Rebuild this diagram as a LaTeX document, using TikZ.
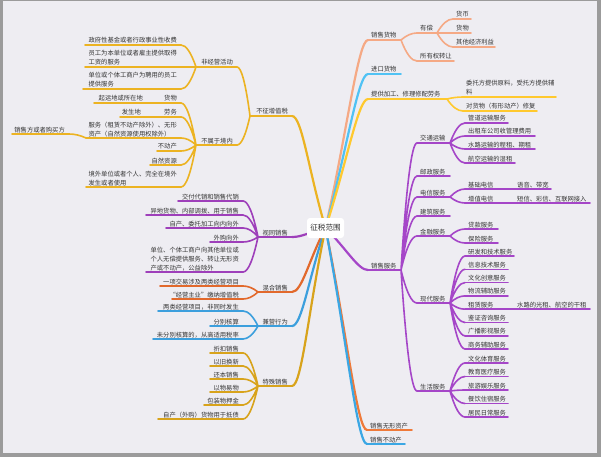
\documentclass[tikz,border=0pt]{standalone}
\usepackage{fontspec}
\newfontfamily\cjk{Noto Sans CJK SC}
\usetikzlibrary{calc,backgrounds}
\definecolor{frame}{HTML}{9B9B9B}
\definecolor{paper}{HTML}{EEEDF2}
\definecolor{txt}{HTML}{333333}
\definecolor{cA}{HTML}{ECB322}
\definecolor{cB}{HTML}{9E3FBA}
\definecolor{cC}{HTML}{E2692C}
\definecolor{cD}{HTML}{3C9FDD}
\definecolor{cE}{HTML}{D8A31B}
\definecolor{cF}{HTML}{F5A985}
\definecolor{cG}{HTML}{50C2F4}
\definecolor{cH}{HTML}{FFC92E}
\definecolor{cI}{HTML}{A546C8}
\definecolor{cJ}{HTML}{EF7A3A}
\definecolor{cK}{HTML}{3BA7E4}
\newcommand\mlines[1]{\vbox{\baselineskip=9pt\lineskiplimit=-20pt\halign{##\hfil\cr#1\crcr}}}
\tikzset{
 lbl/.style={font=\cjk\fontsize{6.3}{9}\selectfont, text=txt, inner sep=0pt},
 ul/.style={line width=1.6pt, line cap=round},
 br/.style={line width=1.6pt, line cap=round, to path={let \p1=(\tikztostart), \p2=(\tikztotarget) in .. controls ({\x1+(\x2-\x1)/3},{\y1+2*(\y2-\y1)/3}) and ({\x2-(\x2-\x1)/3},\y2) .. (\p2)}},
 rbr/.style={line width=2.2pt, line cap=round, to path={let \p1=(\tikztostart), \p2=(\tikztotarget) in .. controls ({(\x1+\x2)/2},{(\y1+\y2)/2}) and ({\x2+(#1pt)},\y2) .. (\p2)}},
 rootnode/.style={fill=white, rounded corners=3pt, minimum width=37pt, minimum height=20pt, inner sep=0pt, font=\cjk\fontsize{7.6}{9}\selectfont, text=txt}
}
% right-side topic: name, colour, x left, x right, y of line, text
\newcommand\tpR[6]{%
 \coordinate (#1-L) at (#3,#5);
 \coordinate (#1-R) at (#4,#5);
 \draw[ul,#2] (#1-L) -- (#1-R);
 \node[lbl,anchor=base west] (#1) at ({#3+3},{#5-2}) {#6};}
% left-side topic
\newcommand\tpL[6]{%
 \coordinate (#1-L) at (#3,#5);
 \coordinate (#1-R) at (#4,#5);
 \draw[ul,#2] (#1-L) -- (#1-R);
 \node[lbl,anchor=base east] (#1) at ({#4-4},{#5-2}) {#6};}
\begin{document}
\begin{tikzpicture}[x=1pt,y=-1pt]
\useasboundingbox (0,0) rectangle (601,457);
\begin{scope}[on background layer]
 \fill[frame] (0,0) rectangle (601,457);
 \fill[paper] (3,1) rectangle (597,453);
\end{scope}
\node[rootnode] (root) at (325.5,228) {征税范围};
% ---------- left: 不征增值税
\tpL{A0}{cA}{250}{292}{116}{不征增值税}
\tpL{A1}{cA}{196}{237}{67}{非经营活动}
\tpL{A11}{cA}{85}{181}{45}{政府性基金或者行政事业性收费}
\tpL{A12}{cA}{85}{181}{67}{\mlines{员工为本单位或者雇主提供取得\cr 工资的服务}}
\tpL{A13}{cA}{83}{181}{89}{\mlines{单位或个体工商户为聘用的员工\cr 提供服务}}
\tpL{A2}{cA}{196}{237}{145}{不属于境内}
\tpL{A21}{cA}{161}{181}{103}{货物}
\tpL{A211}{cA}{94}{147}{103}{起运地或所在地}
\tpL{A22}{cA}{161}{181}{117}{劳务}
\tpL{A221}{cA}{120}{145}{117}{发生地}
\tpL{A23}{cA}{86}{181}{138}{\mlines{服务（租赁不动产除外）、无形\cr 资产（自然资源使用权除外）}}
\tpL{A231}{cA}{12}{69}{134}{销售方或者购买方}
\tpL{A24}{cA}{157}{181}{151}{不动产}
\tpL{A25}{cA}{150}{181}{165}{自然资源}
\tpL{A26}{cA}{86}{181}{187}{\mlines{境外单位或者个人、完全在境外\cr 发生或者使用}}
% ---------- 视同销售
\tpL{B0}{cB}{258}{292}{237}{视同销售}
\tpL{B1}{cB}{178}{243}{201}{交付代销和销售代销}
\tpL{B2}{cB}{146}{243}{215}{异地货物、内部调拨、用于销售}
\tpL{B3}{cB}{166}{243}{228}{自产、委托加工向内向外}
\tpL{B4}{cB}{210}{243}{242}{外购向外}
\tpL{B5}{cB}{146}{243}{272}{\mlines{单位、个体工商户向其他单位或\cr 个人无偿提供服务、转让无形资\cr 产或不动产，公益除外}}
% ---------- 混合销售
\tpL{C0}{cC}{258}{292}{292}{混合销售}
\tpL{C1}{cC}{160}{243}{286}{一项交易涉及两类经营项目}
\tpL{C2}{cC}{172}{243}{299}{“经营主业”缴纳增值税}
% ---------- 兼营行为
\tpL{D0}{cD}{258}{292}{326}{兼营行为}
\tpL{D1}{cD}{158}{243}{311}{两类经营项目，非同时发生}
\tpL{D2}{cD}{210}{243}{326}{分别核算}
\tpL{D3}{cD}{153}{243}{339}{未分别核算的，从高适用税率}
% ---------- 特殊销售
\tpL{E0}{cE}{258}{292}{386}{特殊销售}
\tpL{E1}{cE}{210}{243}{353}{折扣销售}
\tpL{E2}{cE}{210}{243}{366}{以旧换新}
\tpL{E3}{cE}{210}{243}{379}{还本销售}
\tpL{E4}{cE}{210}{243}{392}{以物易物}
\tpL{E5}{cE}{204}{243}{405}{包装物押金}
\tpL{E6}{cE}{158}{243}{419}{自产（外购）货物用于抵债}
% ---------- right side
\tpR{F0}{cF}{368}{401}{40}{销售货物}
\tpR{F1}{cF}{417}{437}{33}{有偿}
\tpR{F11}{cF}{453}{471}{19}{货币}
\tpR{F12}{cF}{453}{471}{33}{货物}
\tpR{F13}{cF}{453}{495}{47}{其他经济利益}
\tpR{F2}{cF}{417}{454}{61}{所有权转让}
\tpR{G0}{cG}{368}{401}{74}{进口货物}
\tpR{H0}{cH}{368}{447}{99}{提供加工、修理修配劳务}
\tpR{H1}{cH}{463}{556}{97}{\mlines{委托方提供原料，受托方提供辅\cr 料}}
\tpR{H2}{cH}{463}{537}{111}{对货物（有形动产）修复}
\tpR{I0}{cI}{368}{401}{270}{销售服务}
\tpR{I1}{cI}{417}{450}{143}{交通运输}
\tpR{I11}{cI}{465}{508}{123}{管道运输服务}
\tpR{I12}{cI}{465}{535}{136}{出租车公司收管理费用}
\tpR{I13}{cI}{465}{535}{149}{水路运输的程租、期租}
\tpR{I14}{cI}{465}{515}{163}{航空运输的湿租}
\tpR{I2}{cI}{417}{450}{176}{邮政服务}
\tpR{I3}{cI}{417}{450}{197}{电信服务}
\tpR{I31}{cI}{465}{498}{189}{基础电信}
\tpR{I311}{cI}{514}{551}{189}{语音、带宽}
\tpR{I32}{cI}{465}{498}{203}{增值电信}
\tpR{I321}{cI}{514}{590}{203}{短信、彩信、互联网接入}
\tpR{I4}{cI}{417}{450}{216}{建筑服务}
\tpR{I5}{cI}{417}{450}{236}{金融服务}
\tpR{I51}{cI}{465}{498}{229}{贷款服务}
\tpR{I52}{cI}{465}{498}{243}{保险服务}
\tpR{I6}{cI}{417}{450}{303}{现代服务}
\tpR{I61}{cI}{465}{514}{256}{研发和技术服务}
\tpR{I62}{cI}{465}{508}{269.3}{信息技术服务}
\tpR{I63}{cI}{465}{508}{282.6}{文化创意服务}
\tpR{I64}{cI}{465}{508}{295.9}{物流辅助服务}
\tpR{I65}{cI}{465}{498}{309.2}{租赁服务}
\tpR{I651}{cI}{514}{590}{309.2}{水路的光租、航空的干租}
\tpR{I66}{cI}{465}{508}{322.5}{鉴证咨询服务}
\tpR{I67}{cI}{465}{508}{335.8}{广播影视服务}
\tpR{I68}{cI}{465}{508}{349}{商务辅助服务}
\tpR{I7}{cI}{417}{450}{391}{生活服务}
\tpR{I71}{cI}{465}{508}{363}{文化体育服务}
\tpR{I72}{cI}{465}{508}{376.5}{教育医疗服务}
\tpR{I73}{cI}{465}{508}{390}{旅游娱乐服务}
\tpR{I74}{cI}{465}{508}{403.5}{餐饮住宿服务}
\tpR{I75}{cI}{465}{508}{417}{居民日常服务}
\tpR{J0}{cJ}{367}{412}{430}{销售无形资产}
\tpR{K0}{cK}{367}{405}{444}{销售不动产}
% ---------- connectors
\begin{scope}[on background layer]
 \draw[rbr=10,cA] (root.center) to (A0-R);
 \draw[rbr=10,cB] (root.center) to (B0-R);
 \draw[rbr=10,cC] (root.center) to (C0-R);
 \draw[rbr=10,cD] (root.center) to (D0-R);
 \draw[rbr=10,cE] (root.center) to (E0-R);
 \draw[rbr=-10,cF] (root.center) to (F0-L);
 \draw[rbr=-10,cG] (root.center) to (G0-L);
 \draw[rbr=-10,cH] (root.center) to (H0-L);
 \draw[rbr=-10,cI] (root.center) to (I0-L);
 \draw[rbr=-10,cJ] (root.center) to (J0-L);
 \draw[rbr=-10,cK] (root.center) to (K0-L);
 % A
 \draw[br,cA] (A0-L) to (A1-R) (A0-L) to (A2-R);
 \draw[br,cA] (A1-L) to (A11-R) (A1-L) to (A12-R) (A1-L) to (A13-R);
 \draw[br,cA] (A2-L) to (A21-R) (A2-L) to (A22-R) (A2-L) to (A23-R)
   (A2-L) to (A24-R) (A2-L) to (A25-R) (A2-L) to (A26-R);
 \draw[ul,cA] (A21-L) -- (A211-R) (A22-L) -- (A221-R);
 \draw[br,cA] (A23-L) to (A231-R);
 % B
 \draw[br,cB] (B0-L) to (B1-R) (B0-L) to (B2-R) (B0-L) to (B3-R) (B0-L) to (B4-R) (B0-L) to (B5-R);
 % C
 \draw[br,cC] (C0-L) to (C1-R) (C0-L) to (C2-R);
 % D
 \draw[br,cD] (D0-L) to (D1-R) (D0-L) to (D2-R) (D0-L) to (D3-R);
 % E
 \draw[br,cE] (E0-L) to (E1-R) (E0-L) to (E2-R) (E0-L) to (E3-R)
   (E0-L) to (E4-R) (E0-L) to (E5-R) (E0-L) to (E6-R);
 % F
 \draw[br,cF] (F0-R) to (F1-L) (F0-R) to (F2-L);
 \draw[br,cF] (F1-R) to (F11-L) (F1-R) to (F12-L) (F1-R) to (F13-L);
 % H
 \draw[br,cH] (H0-R) to (H1-L) (H0-R) to (H2-L);
 % I
 \draw[br,cI] (I0-R) to (I1-L) (I0-R) to (I2-L) (I0-R) to (I3-L) (I0-R) to (I4-L)
   (I0-R) to (I5-L) (I0-R) to (I6-L) (I0-R) to (I7-L);
 \draw[br,cI] (I1-R) to (I11-L) (I1-R) to (I12-L) (I1-R) to (I13-L) (I1-R) to (I14-L);
 \draw[br,cI] (I3-R) to (I31-L) (I3-R) to (I32-L);
 \draw[ul,cI] (I31-R) -- (I311-L) (I32-R) -- (I321-L) (I65-R) -- (I651-L);
 \draw[br,cI] (I5-R) to (I51-L) (I5-R) to (I52-L);
 \draw[br,cI] (I6-R) to (I61-L) (I6-R) to (I62-L) (I6-R) to (I63-L) (I6-R) to (I64-L)
   (I6-R) to (I65-L) (I6-R) to (I66-L) (I6-R) to (I67-L) (I6-R) to (I68-L);
 \draw[br,cI] (I7-R) to (I71-L) (I7-R) to (I72-L) (I7-R) to (I73-L) (I7-R) to (I74-L) (I7-R) to (I75-L);
\end{scope}
\end{tikzpicture}
\end{document}
